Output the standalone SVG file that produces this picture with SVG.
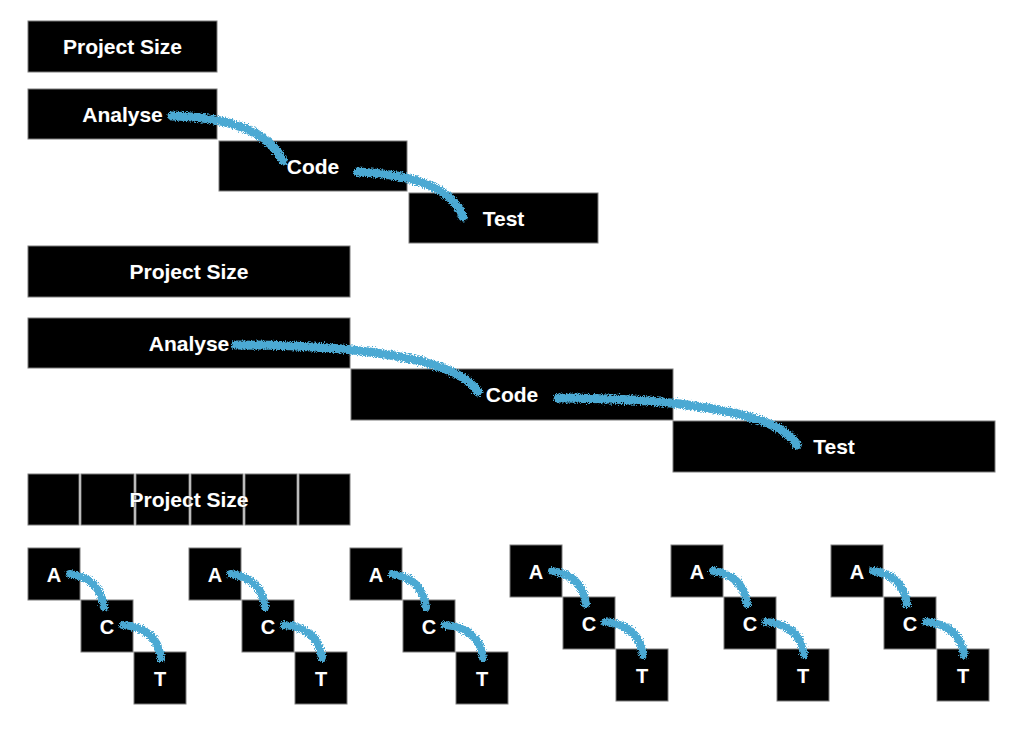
<svg xmlns="http://www.w3.org/2000/svg" xmlns:xlink="http://www.w3.org/1999/xlink" width="1024" height="733" viewBox="0 0 1024 733">
<style>
.box{fill:#000;stroke:#7a7a7a;stroke-width:1}
.lbl{fill:#fff;font-family:"Liberation Sans",Arial,sans-serif;font-weight:bold;font-size:21px;text-anchor:middle;stroke:#222;stroke-width:0.6;paint-order:stroke}
.sl{font-size:20px}
.con{fill:none;stroke:#4BA9D3;stroke-linecap:round}
.big{stroke-width:9}
.sm{stroke-width:8}
</style>
<defs>
<filter id="chalk" filterUnits="userSpaceOnUse" x="0" y="0" width="1024" height="733">
<feTurbulence type="fractalNoise" baseFrequency="0.9" numOctaves="2" seed="3" result="n"/>
<feDisplacementMap in="SourceGraphic" in2="n" scale="6" xChannelSelector="R" yChannelSelector="G"/>
</filter>
</defs>
<rect width="1024" height="733" fill="#fff"/>

<g id="size1"><rect class="box" x="28" y="21" width="189" height="51"/><text class="lbl" x="122.5" y="54">Project Size</text></g>
<g id="analyse1"><rect class="box" x="28" y="89" width="189" height="50"/><text class="lbl" x="122.5" y="122">Analyse</text></g>
<g id="code1"><rect class="box" x="219" y="141" width="188" height="50"/><text class="lbl" x="313" y="174">Code</text></g>
<g id="test1"><rect class="box" x="409" y="193" width="189" height="50"/><text class="lbl" x="503.5" y="226">Test</text></g>

<g id="size2"><rect class="box" x="28" y="246" width="322" height="51"/><text class="lbl" x="189" y="279">Project Size</text></g>
<g id="analyse2"><rect class="box" x="28" y="318" width="322" height="50"/><text class="lbl" x="189" y="351">Analyse</text></g>
<g id="code2"><rect class="box" x="351" y="369" width="322" height="51"/><text class="lbl" x="512" y="402">Code</text></g>
<g id="test2"><rect class="box" x="673" y="421" width="322" height="51"/><text class="lbl" x="834" y="454">Test</text></g>

<g id="size3">
<rect class="box" x="28" y="474" width="51" height="51"/>
<rect class="box" x="81" y="474" width="53" height="51"/>
<rect class="box" x="136" y="474" width="53" height="51"/>
<rect class="box" x="191" y="474" width="52" height="51"/>
<rect class="box" x="245" y="474" width="52" height="51"/>
<rect class="box" x="299" y="474" width="51" height="51"/>
<text class="lbl" x="189" y="507">Project Size</text>
</g>

<g id="g1a"><rect class="box" x="28" y="548" width="52" height="52"/><text class="lbl sl" x="54" y="582">A</text></g>
<g id="g1c"><rect class="box" x="81" y="600" width="52" height="52"/><text class="lbl sl" x="107" y="634">C</text></g>
<g id="g1t"><rect class="box" x="134" y="652" width="52" height="52"/><text class="lbl sl" x="160" y="686">T</text></g>

<g id="g2a"><rect class="box" x="189" y="548" width="52" height="52"/><text class="lbl sl" x="215" y="582">A</text></g>
<g id="g2c"><rect class="box" x="242" y="600" width="52" height="52"/><text class="lbl sl" x="268" y="634">C</text></g>
<g id="g2t"><rect class="box" x="295" y="652" width="52" height="52"/><text class="lbl sl" x="321" y="686">T</text></g>

<g id="g3a"><rect class="box" x="350" y="548" width="52" height="52"/><text class="lbl sl" x="376" y="582">A</text></g>
<g id="g3c"><rect class="box" x="403" y="600" width="52" height="52"/><text class="lbl sl" x="429" y="634">C</text></g>
<g id="g3t"><rect class="box" x="456" y="652" width="52" height="52"/><text class="lbl sl" x="482" y="686">T</text></g>

<g id="g4a"><rect class="box" x="510" y="545" width="52" height="52"/><text class="lbl sl" x="536" y="579">A</text></g>
<g id="g4c"><rect class="box" x="563" y="597" width="52" height="52"/><text class="lbl sl" x="589" y="631">C</text></g>
<g id="g4t"><rect class="box" x="616" y="649" width="52" height="52"/><text class="lbl sl" x="642" y="683">T</text></g>

<g id="g5a"><rect class="box" x="671" y="545" width="52" height="52"/><text class="lbl sl" x="697" y="579">A</text></g>
<g id="g5c"><rect class="box" x="724" y="597" width="52" height="52"/><text class="lbl sl" x="750" y="631">C</text></g>
<g id="g5t"><rect class="box" x="777" y="649" width="52" height="52"/><text class="lbl sl" x="803" y="683">T</text></g>

<g id="g6a"><rect class="box" x="831" y="545" width="52" height="52"/><text class="lbl sl" x="857" y="579">A</text></g>
<g id="g6c"><rect class="box" x="884" y="597" width="52" height="52"/><text class="lbl sl" x="910" y="631">C</text></g>
<g id="g6t"><rect class="box" x="937" y="649" width="52" height="52"/><text class="lbl sl" x="963" y="683">T</text></g>

<g id="connectors" filter="url(#chalk)">
<path class="con big" d="M172,116 Q262,118 283,161"/>
<path class="con big" d="M358,172 Q448,176 463,217"/>
<path class="con big" d="M236,345 C340,345 455,355 478,392"/>
<path class="con big" d="M558,398 C665,398 778,410 797,445"/>
<g id="small">
<path class="con sm" d="M70,574 Q100,578 104,607"/>
<path class="con sm" d="M123,625 Q157,628 161,658"/>
<path class="con sm" d="M231,574 Q261,578 265,607"/>
<path class="con sm" d="M284,625 Q318,628 322,658"/>
<path class="con sm" d="M392,574 Q422,578 426,607"/>
<path class="con sm" d="M445,625 Q479,628 483,658"/>
<path class="con sm" d="M552,571 Q582,575 586,604"/>
<path class="con sm" d="M605,622 Q639,625 643,655"/>
<path class="con sm" d="M713,571 Q743,575 747,604"/>
<path class="con sm" d="M766,622 Q800,625 804,655"/>
<path class="con sm" d="M873,571 Q903,575 907,604"/>
<path class="con sm" d="M926,622 Q960,625 964,655"/>
</g>
</g>
</svg>
